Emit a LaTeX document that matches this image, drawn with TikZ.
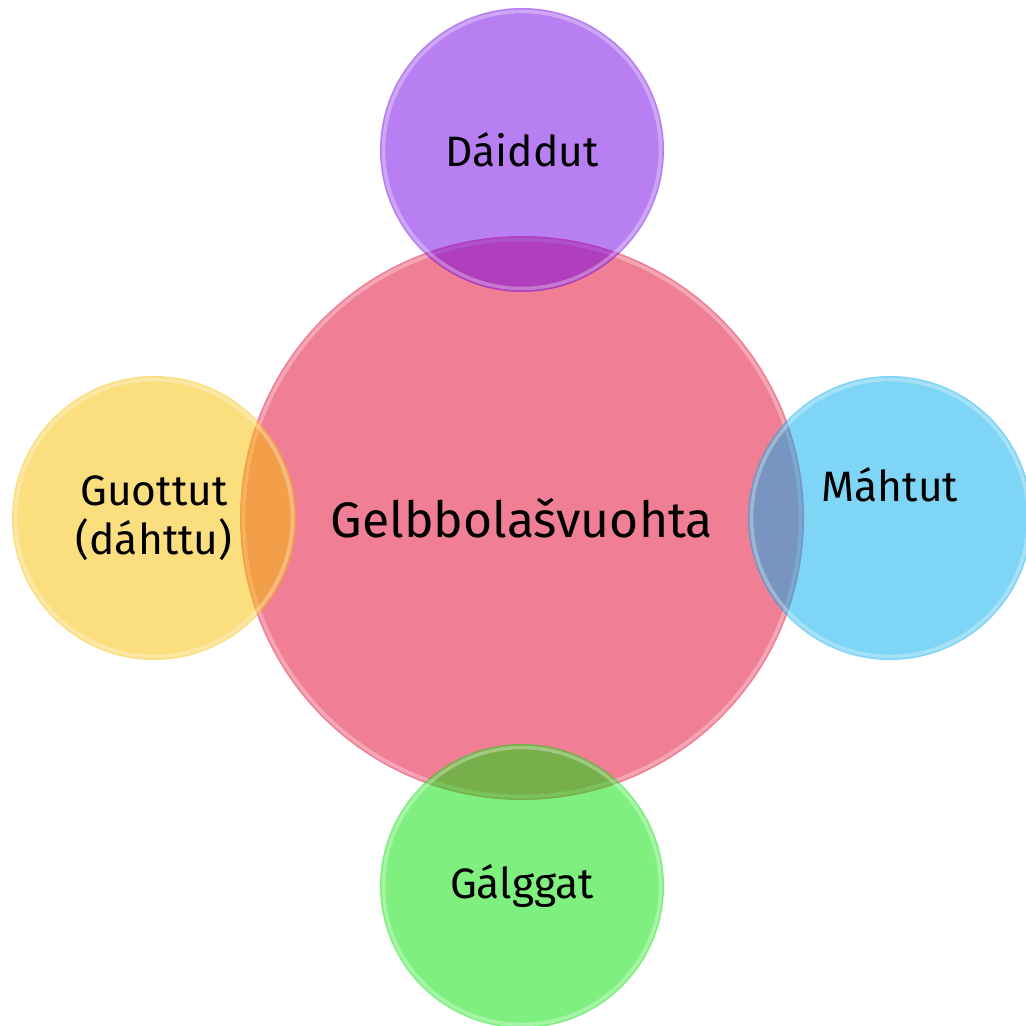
\documentclass[tikz,border=0pt]{standalone}
\usepackage{fontspec}
\setmainfont{Fira Sans}
\definecolor{gelbcol}{RGB}{225,0,45}
\definecolor{daicol}{RGB}{112,0,230}
\definecolor{guocol}{RGB}{247,191,0}
\definecolor{mahcol}{RGB}{0,171,235}
\definecolor{galcol}{RGB}{0,225,0}

\begin{document}
\begin{tikzpicture}[
    bubble/.style={circle,inner sep=0,draw=none,minimum size=#1,
    fill opacity=0.5,text opacity=1,font=\fontsize{14.2}{16}\selectfont,align=center},
    label text/.style={font=\fontsize{12.1}{13.9}\selectfont,align=center},
    rim/.style={white,opacity=0.3,line width=1}
    ]
    \def\R{2.82}  % big circle radius
    \def\r{1.42}  % small circle radius
    \def\D{3.68}  % distance of small circles from centre

    \useasboundingbox (-5.22,-5.07) rectangle (5.04,5.18);

    \node[bubble=2*\R cm,fill=gelbcol] (gelb) at (0,0) {Gelbbolašvuohta};
    \draw[rim] (gelb.center) circle (\R-0.035);

    \foreach \name/\pos/\col in {dai/{(0,\D)}/daicol,guo/{(-\D,0)}/guocol,
                                 mah/{(\D,0)}/mahcol,gal/{(0,-\D)}/galcol} {
        \node[bubble=2*\r cm,fill=\col] (\name) at \pos {};
        \draw[rim] (\name.center) circle (\r-0.035);
    }
    \node[label text] (daitext) at (dai.center) {Dáiddut};
    \node[label text] (guotext) at (guo.center) {Guottut\\(dáhttu)};
    \node[label text] (mahtext) at ([yshift=0.33cm]mah.center) {Máhtut};
    \node[label text] (galtext) at (gal.center) {Gálggat};
\end{tikzpicture}
\end{document}
